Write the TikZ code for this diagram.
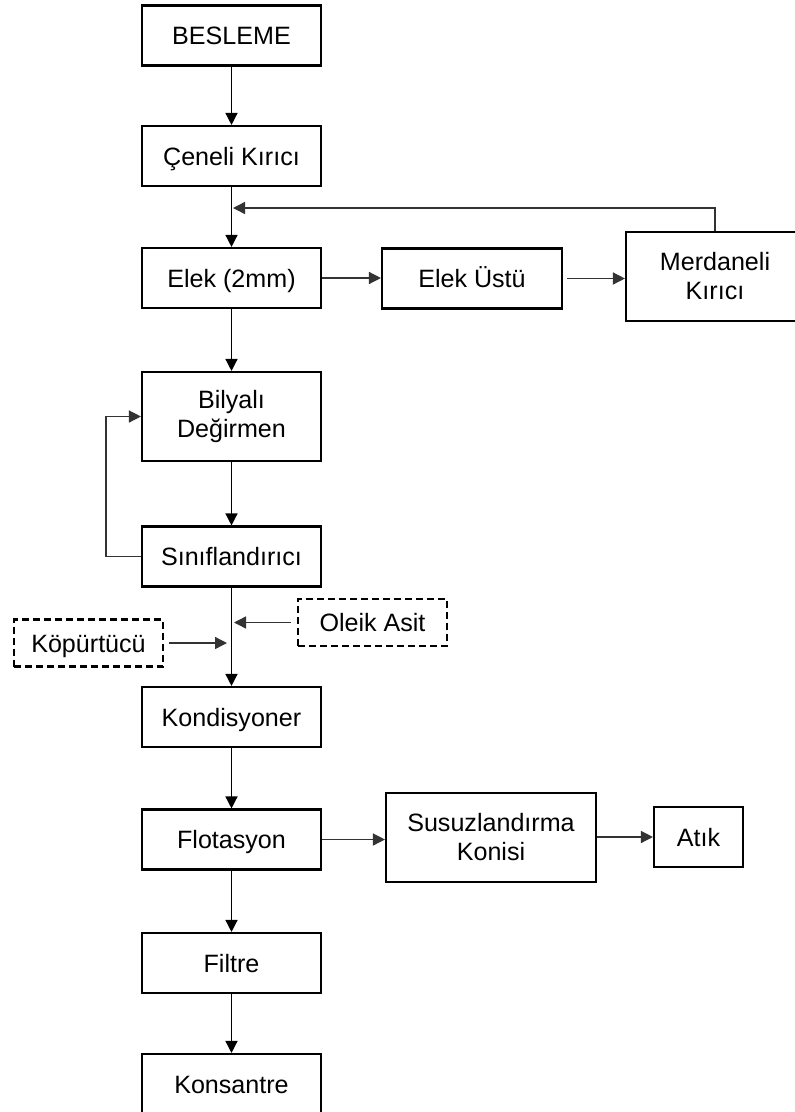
\documentclass[tikz,border=0pt]{standalone}
\usepackage{fontspec}
\setmainfont{Liberation Sans}
\usetikzlibrary{arrows.meta}
\begin{document}
\begin{tikzpicture}[x=1pt,y=-1pt,
  box/.style={draw, line width=2.1pt, inner sep=0pt, align=center,
    font=\fontsize{25.1}{29}\selectfont, minimum width=179pt, minimum height=60pt},
  one/.style={text height=24pt, text depth=6pt},
  dbox/.style={box, dash pattern=on 7pt off 4pt, minimum width=149pt, minimum height=47pt},
  flow/.style={line width=1.4pt, -{Triangle[length=12pt,width=12pt]}},
  side/.style={flow, draw=black!80}]
\path[use as bounding box, clip] (0,0) rectangle (795,1112);

% process blocks
\node[box,one] (feed) at (231.5,35.5) {BESLEME};
\node[box,one] (jaw) at (231.5,156) {Çeneli Kırıcı};
\node[box,one] (screen) at (231.5,278) {Elek (2mm)};
\node[box,one,minimum width=180pt] (over) at (472,278.5) {Elek Üstü};
\node[box,minimum width=178pt,minimum height=89pt] (roll) at (715,276.5) {Merdaneli\\Kırıcı};
\node[box,minimum height=89pt] (mill) at (231.5,416.5) {Bilyalı\\Değirmen};
\node[box,one] (class) at (231.5,556.5) {Sınıflandırıcı};
\node[dbox,one] (froth) at (88.5,643) {Köpürtücü};
\node[dbox,one] (oleic) at (372.5,622.5) {Oleik Asit};
\node[box,one] (cond) at (231.5,717) {Kondisyoner};
\node[box,one] (flot) at (231.5,839.5) {Flotasyon};
\node[box,minimum width=210pt,minimum height=89pt] (cone) at (491,837.5) {Susuzlandırma\\Konisi};
\node[box,one,minimum width=89pt] (waste) at (698.5,837) {Atık};
\node[box,one] (filter) at (231.5,963) {Filtre};
\node[box,one] (conc) at (231.5,1084) {Konsantre};

% inlets on the main line
\coordinate (ret) at (233,208);
\coordinate (oleicIn) at (234,622.5);
\coordinate (frothIn) at (227,643);

% main line
\draw[flow] (feed.south) -- (jaw.north);
\draw[flow] (jaw.south) -- (screen.north);
\draw[flow] (screen.south) -- (mill.north);
\draw[flow] (mill.south) -- (class.north);
\draw[flow] (class.south) -- (cond.north);
\draw[flow] (cond.south) -- (flot.north);
\draw[flow] (flot.south) -- (filter.north);
\draw[flow] (filter.south) -- (conc.north);

% side streams and recycles
\draw[side] (screen.east) -- (screen.east -| over.west);
\draw[side,shorten <=4pt] (over.east) -- (over.east -| roll.west);
\draw[side] (roll.north) |- (ret);
\draw[side] (class.west) -- ++(-35,0) |- (mill.west);
\draw[side,shorten <=6pt] (oleic.west) -- (oleicIn);
\draw[side,shorten <=5pt] (froth.east) -- (frothIn);
\draw[side] (flot.east) -- (flot.east -| cone.west);
\draw[side] (cone.east |- waste.west) -- (waste.west);
\end{tikzpicture}
\end{document}
